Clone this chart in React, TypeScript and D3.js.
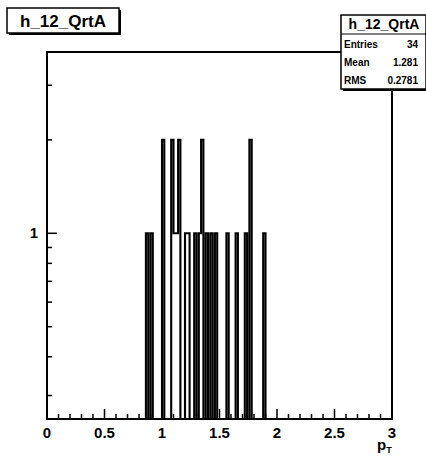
import React from "react";
import * as d3 from "d3";

// ---- data ----
const histName = "h_12_QrtA";
const nBins = 150;
const xMin = 0;
const xMax = 3;
// individual pT entries (bin centres)
const entries = [
  0.87, 0.91, 1.01, 1.01, 1.09, 1.09, 1.11, 1.13, 1.15, 1.15, 1.21, 1.23,
  1.29, 1.33, 1.35, 1.35, 1.39, 1.43, 1.47, 1.57, 1.65, 1.73, 1.77,
  1.77, 1.89,
];
const statLabels = ["Entries", "Mean", "RMS"];
const statValues = ["34", "1.281", "0.2781"];
const xTickLabels = ["0", "0.5", "1", "1.5", "2", "2.5", "3"];
const xTickValues = [0, 0.5, 1, 1.5, 2, 2.5, 3];
const yMajorTicks = [1];
const yMinorTicks = [0.3, 0.4, 0.5, 0.6, 0.7, 0.8, 0.9, 2, 3];
const yDomain = [0.252, 3.84];

const W = 426;
const H = 458;
const FONT = "'Liberation Sans', Arial, Helvetica, sans-serif";

export default function App() {
  const left = 47, right = 392, top = 52, bottom = 419;
  const x = d3.scaleLinear().domain([xMin, xMax]).range([left, right]);
  const y = d3.scaleLog().domain(yDomain).range([bottom, top]);

  const bw = (xMax - xMin) / nBins;
  const thresholds = d3.range(1, nBins).map((i) => xMin + i * bw);
  const bins = d3.bin().domain([xMin, xMax]).thresholds(thresholds)(entries);

  // step outline points
  const pts: [number, number][] = [];
  pts.push([x(xMin), bottom]);
  bins.forEach((b) => {
    const yy = b.length > 0 ? y(b.length) : bottom;
    pts.push([x(b.x0 as number), yy]);
    pts.push([x(b.x1 as number), yy]);
  });
  pts.push([x(xMax), bottom]);
  const path = d3.line()(pts) as string;

  // x ticks: major every 0.5, minor every 0.1
  const xMinor = d3.range(0, 31).map((i) => i * 0.1).filter((v) => Math.abs(v * 2 - Math.round(v * 2)) > 1e-6);

  return (
    <svg width={W} height={H} style={{ position: "absolute", left: 0, top: 0, background: "#fff" }}>
      <rect x={0} y={0} width={W} height={H} fill="#fff" />
      <defs>
        <clipPath id="frameClip">
          <rect x={left} y={top} width={right - left} height={bottom - top} />
        </clipPath>
      </defs>
      {/* histogram */}
      <path d={path} fill="none" stroke="#000" strokeWidth={2.1} clipPath="url(#frameClip)" />
      {/* frame */}
      <rect x={left} y={top} width={right - left} height={bottom - top} fill="none" stroke="#000" strokeWidth={2} />
      {/* x ticks */}
      {xTickValues.map((v) => (
        <line key={"xM" + v} x1={x(v)} x2={x(v)} y1={bottom} y2={bottom - 10} stroke="#000" strokeWidth={1.5} />
      ))}
      {xMinor.map((v) => (
        <line key={"xm" + v} x1={x(v)} x2={x(v)} y1={bottom} y2={bottom - 5} stroke="#000" strokeWidth={1.5} />
      ))}
      {xTickValues.map((v, i) => (
        <text key={"xl" + v} x={x(v)} y={438} textAnchor="middle" fontFamily={FONT} fontWeight="bold" fontSize={15}>
          {xTickLabels[i]}
        </text>
      ))}
      <text x={377} y={450} fontFamily={FONT} fontWeight="bold" fontSize={15}>
        p<tspan fontSize={9} dy={3}>T</tspan>
      </text>
      {/* y ticks */}
      {yMajorTicks.map((v) => (
        <line key={"yM" + v} x1={left} x2={left + 10} y1={y(v)} y2={y(v)} stroke="#000" strokeWidth={1.5} />
      ))}
      {yMinorTicks.map((v) => (
        <line key={"ym" + v} x1={left} x2={left + 5} y1={y(v)} y2={y(v)} stroke="#000" strokeWidth={1.5} />
      ))}
      {yMajorTicks.map((v) => (
        <text key={"yl" + v} x={38} y={y(v) + 5} textAnchor="end" fontFamily={FONT} fontWeight="bold" fontSize={15}>
          {String(v)}
        </text>
      ))}
      {/* title box */}
      <rect x={9} y={10} width={112} height={25} fill="#000" />
      <rect x={7} y={8} width={112} height={25} fill="#fff" stroke="#000" strokeWidth={1.5} />
      <text x={63} y={26.5} textAnchor="middle" fontFamily={FONT} fontWeight="bold" fontSize={17}>
        {histName}
      </text>
      {/* stats box */}
      <rect x={343} y={17} width={85} height={74} fill="#000" />
      <rect x={341} y={15} width={85} height={74} fill="#fff" stroke="#000" strokeWidth={1.5} />
      <line x1={341} x2={426} y1={34} y2={34} stroke="#000" strokeWidth={1} />
      <text x={384} y={29} textAnchor="middle" fontFamily={FONT} fontWeight="bold" fontSize={14}>
        {histName}
      </text>
      {statLabels.map((s, i) => (
        <text key={s} x={344} y={47.5 + i * 18.2} fontFamily={FONT} fontWeight="bold" fontSize={10}>
          {s}
        </text>
      ))}
      {statValues.map((s, i) => (
        <text key={"v" + i} x={418} y={47.5 + i * 18.2} textAnchor="end" fontFamily={FONT} fontWeight="bold" fontSize={10}>
          {s}
        </text>
      ))}
    </svg>
  );
}
